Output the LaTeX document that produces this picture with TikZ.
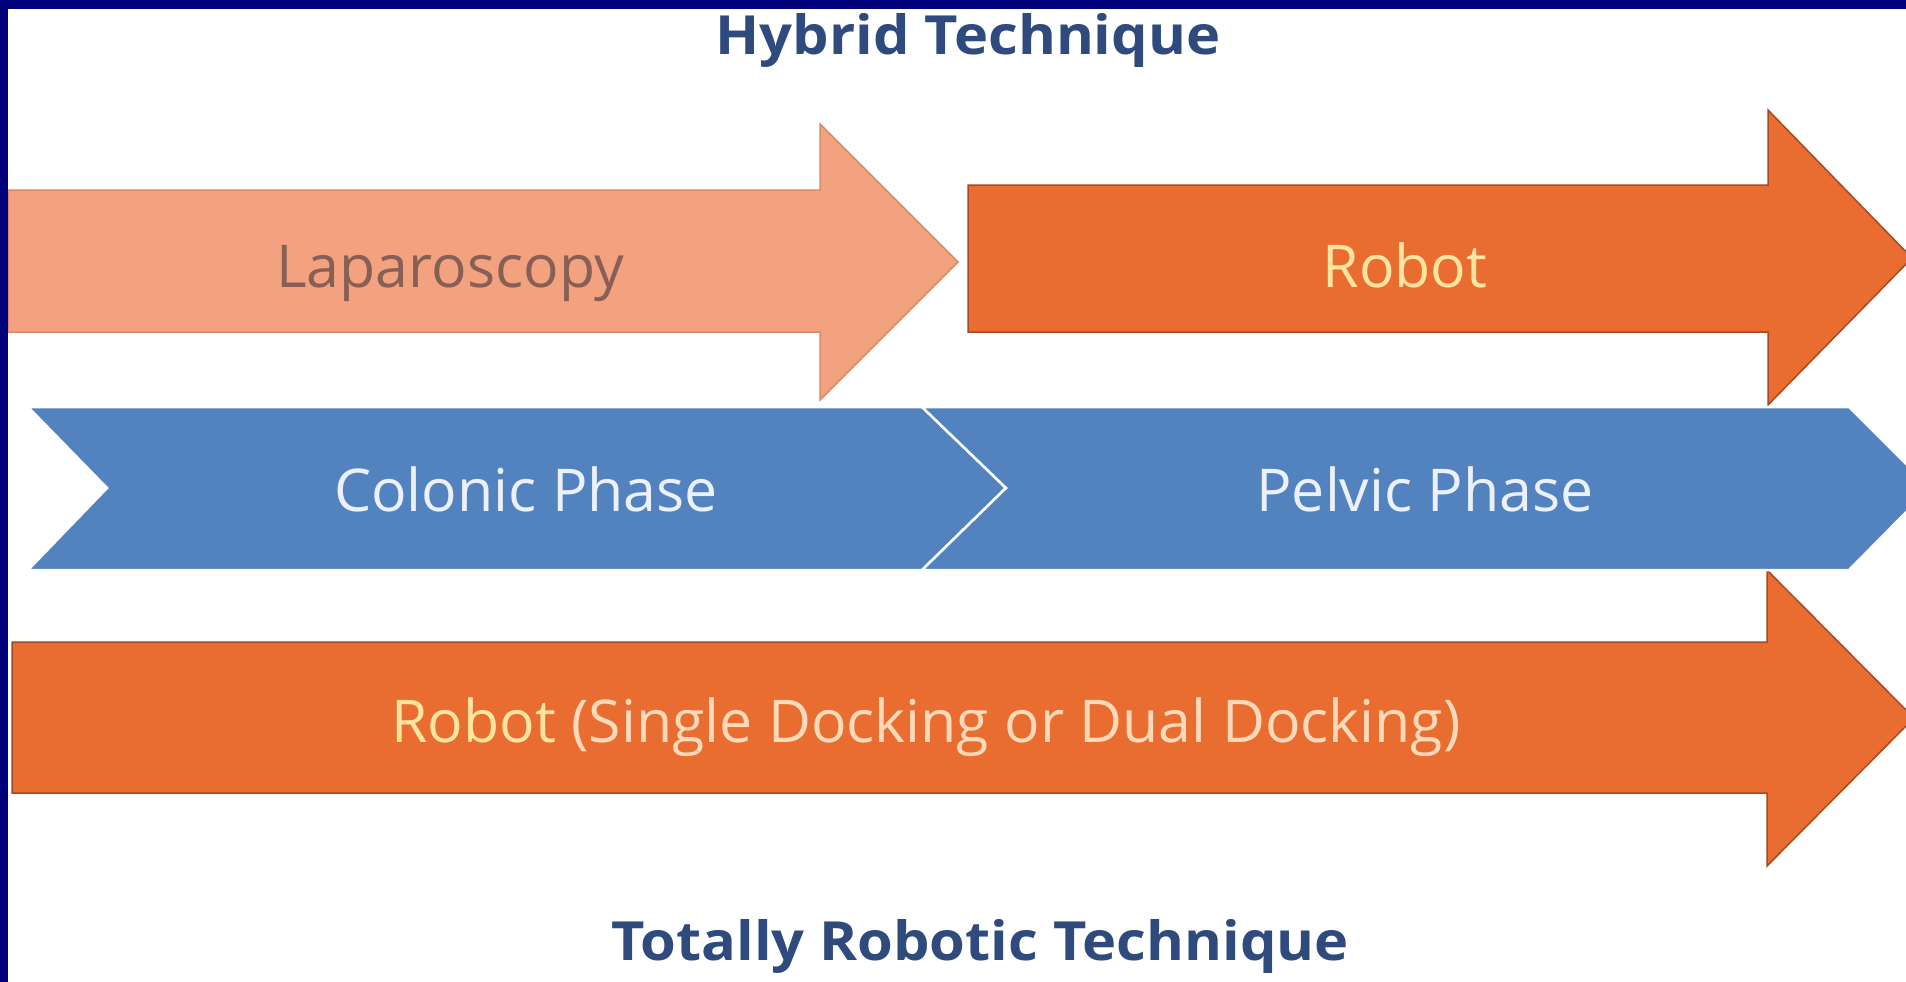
\documentclass[tikz,border=0pt]{standalone}
\usepackage{fontspec}
\setmainfont{Open Sans}
\newfontfamily\titlefont[FakeStretch=1.07]{Open Sans}
\usepackage{tikz}
\usetikzlibrary{positioning}
\definecolor{framenavy}{RGB}{0,0,122}
\definecolor{titleblue}{RGB}{47,74,125}
\definecolor{laparosalmon}{RGB}{243,162,128}
\definecolor{laparoedge}{RGB}{222,135,105}
\definecolor{laparotext}{RGB}{135,95,85}
\definecolor{robotorange}{RGB}{233,108,48}
\definecolor{robotedge}{RGB}{165,75,35}
\definecolor{robottext}{RGB}{255,228,160}
\definecolor{dockingtext}{RGB}{252,218,185}
\definecolor{phaseblue}{RGB}{82,131,190}
\definecolor{phasetext}{RGB}{235,240,250}
\tikzset{
    % Block arrows and chevrons
    laparoarrow/.style={fill=laparosalmon, draw=laparoedge, line width=1.5pt},
    robotarrow/.style={fill=robotorange, draw=robotedge, line width=1.5pt},
    phasechevron/.style={fill=phaseblue, draw=white, line width=2.5pt},
    % Text styles
    titletext/.style={font=\titlefont\fontsize{54}{64}\selectfont\bfseries, text=titleblue, anchor=base},
    arrowtext/.style={font=\fontsize{59}{69}\selectfont, text=#1, anchor=base},
    arrowtext/.default=white,
}

\begin{document}
\begin{tikzpicture}[x=1pt, y=-1pt]

\clip (0,0) rectangle (1906,982);
\fill[white] (0,0) rectangle (1906,982);

% ============================================================
% Hybrid technique: laparoscopy then robot
% ============================================================
\node[titletext] (hybrid) at (968,55) {Hybrid Technique};

\draw[laparoarrow] (8,190) -- (820,190) -- (820,124) -- (958,262)
    -- (820,400) -- (820,332) -- (8,332) -- cycle;
\draw[robotarrow] (968,185) -- (1768,185) -- (1768,110) -- (1912,258)
    -- (1768,405) -- (1768,332) -- (968,332) -- cycle;

\node[arrowtext=laparotext] (lapar) at (450,287) {Laparoscopy};
\node[arrowtext=robottext] (robot1) at (1405,287) {Robot};

% ============================================================
% Totally robotic technique
% ============================================================
\draw[robotarrow] (12,642) -- (1767,642) -- (1767,570) -- (1914,718)
    -- (1767,866) -- (1767,793) -- (12,793) -- cycle;

\node[arrowtext] (robot2) at (926,742)
    {\textcolor{robottext}{Robot} \textcolor{dockingtext}{(Single Docking or Dual Docking)}};

% ============================================================
% Phases (drawn on top of the arrow heads)
% ============================================================
\draw[phasechevron] (28,407) -- (922,407) -- (1006,488) -- (922,570)
    -- (28,570) -- (107,488) -- cycle;
\draw[phasechevron] (922,407) -- (1849,407) -- (1930,488) -- (1849,570)
    -- (922,570) -- (1006,488) -- cycle;

\node[arrowtext=phasetext] (colonic) at (526,511) {Colonic Phase};
\node[arrowtext=phasetext] (pelvic) at (1425,511) {Pelvic Phase};

\node[titletext] (totally) at (980,960) {Totally Robotic Technique};

% Frame
\fill[framenavy] (0,0) rectangle (1906,9);
\fill[framenavy] (0,0) rectangle (8,982);

\end{tikzpicture}
\end{document}
